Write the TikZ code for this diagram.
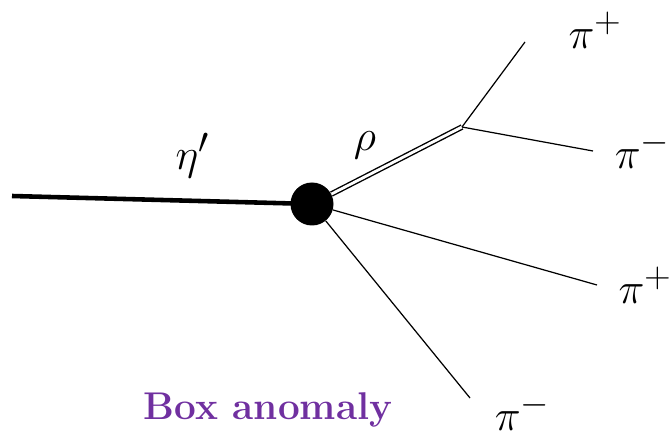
\documentclass[tikz,border=0pt]{standalone}
\usepackage{amsmath, amssymb}
\usepackage{tikz}
\usetikzlibrary{positioning, calc}
\definecolor{BoxPurple}{HTML}{7030A0}
\definecolor{LineBlack}{HTML}{000000}

\begin{document}
\begin{tikzpicture}[
    meson/.style={color=LineBlack, line width=0.7pt},
    heavy/.style={color=LineBlack, line width=2.6pt},
    resonance/.style={color=LineBlack, double, double distance=1.6pt, line width=0.8pt},
    plabel/.style={font=\fontsize{29}{34}\selectfont, inner sep=0pt}
]
                \useasboundingbox (0,0) rectangle (13.44,8.74);

                % Vertex and end points
                \coordinate (etaIn) at (0.24,4.82);
                \node[circle, fill=LineBlack, minimum size=0.86cm, inner sep=0pt] (box) at (6.24,4.66) {};
                \coordinate (rhoDecay) at (9.24,6.20);
                \coordinate (piPlusA) at (10.50,7.90);
                \coordinate (piMinusA) at (11.86,5.72);
                \coordinate (piPlusB) at (11.94,3.04);
                \coordinate (piMinusB) at (9.40,0.78);

                % Incoming eta prime
                \draw[heavy] (etaIn) -- (box.center);

                % Rho line and its decay
                \draw[resonance] (box) -- (rhoDecay);
                \draw[meson] (rhoDecay) -- (piPlusA);
                \draw[meson] (rhoDecay) -- (piMinusA);

                % Direct pions
                \draw[meson] (box) -- (piPlusB);
                \draw[meson] (box) -- (piMinusB);

                % Labels
                \node[plabel] (etaLabel) at (3.85,5.62) {$\eta'$};
                \node[plabel] (rhoLabel) at (7.30,5.84) {$\rho$};
                \node[plabel] (piPlusALabel) at (11.90,8.14) {$\pi^+$};
                \node[plabel] (piMinusALabel) at (12.85,5.74) {$\pi^-$};
                \node[plabel] (piPlusBLabel) at (12.90,3.04) {$\pi^+$};
                \node[plabel] (piMinusBLabel) at (10.45,0.50) {$\pi^-$};

                \node[font=\fontsize{22}{26}\selectfont\bfseries, color=BoxPurple] (boxLabel) at (5.36,0.54) {Box anomaly};
\end{tikzpicture}
\end{document}
